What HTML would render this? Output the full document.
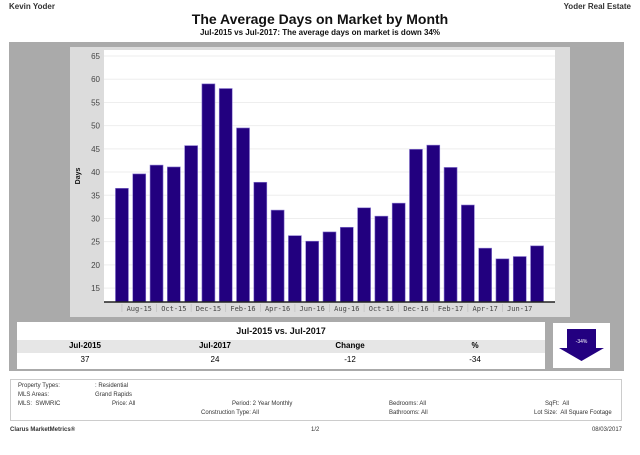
<!DOCTYPE html>
<html><head><meta charset="utf-8"><style>
body{margin:0;width:640px;height:455px;background:#fff;font-family:"Liberation Sans",sans-serif;position:relative;overflow:hidden}
.a{position:absolute;white-space:nowrap}
.f{font-size:6px;color:#333}
</style></head><body>
<div class="a" style="left:9px;top:2px;font-size:8px;font-weight:bold;color:#333">Kevin Yoder</div>
<div class="a" style="right:9px;top:2px;font-size:8px;font-weight:bold;color:#333">Yoder Real Estate</div>
<div class="a" style="left:0;width:640px;text-align:center;top:11px;font-size:14px;font-weight:bold;color:#111">The Average Days on Market by Month</div>
<div class="a" style="left:0;width:640px;text-align:center;top:28px;font-size:8px;font-weight:bold;color:#111">Jul-2015 vs Jul-2017: The average days on market is down 34%</div>
<div class="a" style="left:9px;top:42px;width:615px;height:329px;background:#aaa"></div>
<div class="a" style="left:70px;top:47px;width:500px;height:270px;background:#dcdcdc"></div>
<svg class="a" style="left:0;top:0" width="640" height="330" id="chart"></svg>
<div class="a" style="left:17px;top:322px;width:528px;height:47px;background:#fff"></div>
<div class="a" style="left:17px;top:340px;width:528px;height:13px;background:#e6e6e6"></div>
<div class="a" style="left:17px;width:528px;text-align:center;top:326px;font-size:9px;font-weight:bold;color:#111">Jul-2015 vs. Jul-2017</div>
<div class="a" style="left:50px;width:70px;text-align:center;top:341px;font-size:8px;font-weight:bold">Jul-2015</div>
<div class="a" style="left:180px;width:70px;text-align:center;top:341px;font-size:8px;font-weight:bold">Jul-2017</div>
<div class="a" style="left:315px;width:70px;text-align:center;top:341px;font-size:8px;font-weight:bold">Change</div>
<div class="a" style="left:440px;width:70px;text-align:center;top:341px;font-size:8px;font-weight:bold">%</div>
<div class="a" style="left:50px;width:70px;text-align:center;top:355px;font-size:8px">37</div>
<div class="a" style="left:180px;width:70px;text-align:center;top:355px;font-size:8px">24</div>
<div class="a" style="left:315px;width:70px;text-align:center;top:355px;font-size:8px">-12</div>
<div class="a" style="left:440px;width:70px;text-align:center;top:355px;font-size:8px">-34</div>
<div class="a" style="left:553px;top:323px;width:57px;height:45px;background:#fff"></div>
<svg class="a" style="left:553px;top:323px" width="57" height="45"><polygon points="14,6 43,6 43,25 51,25 28.5,38 6,25 14,25" fill="#230080"/><text x="28.5" y="20" font-size="5" fill="#fff" text-anchor="middle" font-family="Liberation Sans">-34%</text></svg>
<div class="a" style="left:10px;top:379px;width:612px;height:42px;border:1px solid #ccc;box-sizing:border-box"></div>
<div class="a f" style="left:18px;top:383px">Property Types:</div>
<div class="a f" style="left:95px;top:383px">: Residential</div>
<div class="a f" style="left:18px;top:392px">MLS Areas:</div>
<div class="a f" style="left:95px;top:392px">Grand Rapids</div>
<div class="a f" style="left:18px;top:401px">MLS:&nbsp; SWMRIC</div>
<div class="a f" style="left:112px;top:401px">Price: All</div>
<div class="a f" style="left:232px;top:401px">Period: 2 Year Monthly</div>
<div class="a f" style="left:201px;top:410px">Construction Type: All</div>
<div class="a f" style="left:389px;top:401px">Bedrooms: All</div>
<div class="a f" style="left:389px;top:410px">Bathrooms: All</div>
<div class="a f" style="left:545px;top:401px">SqFt:&nbsp; All</div>
<div class="a f" style="left:534px;top:410px">Lot Size:&nbsp; All Square Footage</div>
<div class="a" style="left:10px;top:427px;font-size:6px;font-weight:bold;color:#333">Clarus MarketMetrics®</div>
<div class="a" style="left:311px;top:427px;font-size:6px;color:#333">1/2</div>
<div class="a" style="right:18px;top:427px;font-size:6px;color:#333">08/03/2017</div>
<script>
const months=["Jul-15","Aug-15","Sep-15","Oct-15","Nov-15","Dec-15","Jan-16","Feb-16","Mar-16","Apr-16","May-16","Jun-16","Jul-16","Aug-16","Sep-16","Oct-16","Nov-16","Dec-16","Jan-17","Feb-17","Mar-17","Apr-17","May-17","Jun-17","Jul-17"];
const days=[36.5,39.6,41.5,41.1,45.7,59,58,49.5,37.8,31.8,26.3,25.1,27.1,28.1,32.3,30.5,33.3,44.9,45.8,41,32.9,23.6,21.3,21.8,24.1];
const yTicks=[15,20,25,30,35,40,45,50,55,60,65];
const NS="http://www.w3.org/2000/svg";
const svg=document.getElementById('chart');
const px0=104,px1=555,pyTop=50,pyBot=302,yMin=12,yMax=66.3;
const bandL=113.3,bandR=545.7;
const y=v=>pyBot-(v-yMin)/(yMax-yMin)*(pyBot-pyTop);
const step=(bandR-bandL)/months.length;
const xc=i=>bandL+step*(i+0.5);
function mk(t,a){const e=document.createElementNS(NS,t);for(const k in a)e.setAttribute(k,a[k]);svg.appendChild(e);return e;}
const bg=mk('rect',{x:px0,y:pyTop,width:px1-px0,height:pyBot-pyTop,fill:'#fff'});


yTicks.forEach(t=>{
 const g=mk('line',{x1:px0,x2:px1,y1:y(t),y2:y(t),stroke:'#eee','stroke-width':1});
 
 
 const l=mk('text',{x:px0-4,y:y(t)+3,'font-size':8,fill:'#444','text-anchor':'end','font-family':'Liberation Sans'});
 l.textContent=t;
 
 
});
const yt=mk('text',{x:0,y:0,'font-size':7,'font-weight':'bold',fill:'#111','text-anchor':'middle','font-family':'Liberation Sans',transform:'translate(80,176) rotate(-90)'});
yt.textContent='Days';


days.forEach((v,i)=>{
 const c=xc(i);
 const b=mk('rect',{x:c-6.5,y:y(v),width:13,height:pyBot-y(v),fill:'#22007f',stroke:'#8a78d0','stroke-width':0.6});
 
 
});
const ax=mk('line',{x1:px0,x2:px1,y1:pyBot,y2:pyBot,stroke:'#222','stroke-width':1.5});


months.forEach((m,i)=>{
 if(i%2===1){
  const c=xc(i);
  const l=mk('text',{x:c,y:311,'font-size':7,fill:'#444','text-anchor':'middle','font-family':'DejaVu Sans Mono'});
  l.textContent=m;
  
  
  const s=mk('line',{x1:c-step,x2:c-step,y1:304,y2:312,stroke:'#bbb','stroke-width':0.6});
  
  
 }
});
</script>
</body></html>
